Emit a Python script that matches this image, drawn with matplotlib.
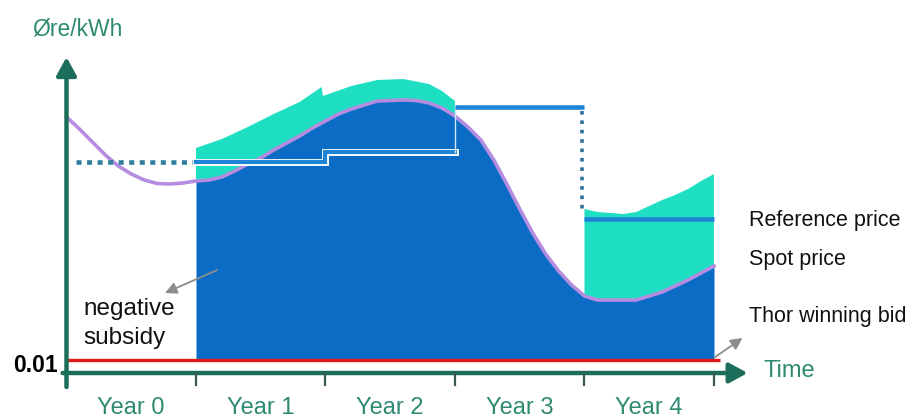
import numpy as np
import matplotlib
matplotlib.use('Agg')
import matplotlib.pyplot as plt
import matplotlib.patheffects as pe

plt.rcParams['font.family'] = ['Liberation Sans', 'DejaVu Sans']

# spot price (øre/kWh, schematic units)
spot_t = [0.0, 0.1, 0.2, 0.3, 0.4, 0.5, 0.6, 0.7, 0.8, 0.9, 1.0, 1.1, 1.2, 1.3, 1.4, 1.5,
          1.6, 1.7, 1.8, 1.9, 2.0, 2.1, 2.2, 2.3, 2.4, 2.5, 2.6, 2.7, 2.8, 2.9, 3.0, 3.1,
          3.2, 3.3, 3.4, 3.5, 3.6, 3.7, 3.8, 3.9, 4.0, 4.1, 4.2, 4.4, 4.6, 4.8, 5.0]
spot = [25.6, 24.4, 23.1, 21.8, 20.7, 19.9, 19.3, 18.95, 18.9, 19.0, 19.2, 19.3, 19.6,
        20.2, 20.9, 21.5, 22.3, 23.0, 23.7, 24.5, 25.2, 25.9, 26.4, 26.8, 27.2, 27.25,
        27.3, 27.25, 27.0, 26.5, 25.7, 24.6, 23.3, 21.3, 18.9, 16.4, 14.0, 11.9, 10.2,
        8.8, 7.7, 7.3, 7.3, 7.3, 8.1, 9.3, 10.7]

# upper edge of the teal bands
upper1_t = [1.0, 1.2, 1.4, 1.6, 1.8, 1.97, 1.98, 2.2, 2.4, 2.6, 2.8, 2.9, 3.0]
upper1 = [22.5, 23.4, 24.6, 25.9, 27.1, 28.6, 27.7, 28.7, 29.3, 29.4, 28.9, 28.2, 27.2]
upper2_t = [4.0, 4.1, 4.2, 4.3, 4.4, 4.5, 4.6, 4.7, 4.8, 4.9, 5.0]
upper2 = [16.4, 16.1, 16.0, 15.9, 16.1, 16.7, 17.3, 17.8, 18.4, 19.2, 19.9]

# reference price per year
years = ['Year 0', 'Year 1', 'Year 2', 'Year 3', 'Year 4']
ref_price = [21.1, 21.1, 22.1, 26.6, 15.4]
bid = 1.3

dark_blue = '#0b6cc6'
teal = '#1fdfc2'
purple = '#b48ce0'
ref_blue = '#1e84d6'
axis_green = '#1c6e5a'
label_green = '#2f8a72'

fig = plt.figure(figsize=(9.09, 4.18), dpi=100)
ax = fig.add_axes([0, 0, 1, 1])
ax.set_xlim(-0.5135, 6.506)
ax.set_ylim(-4.5, 37.3)
ax.axis('off')

st = np.array(spot_t)
sv = np.array(spot)

# dark blue area under the spot price, from year 1
m = st >= 1.0
ax.fill_between(st[m], bid, sv[m], color=dark_blue, lw=0, zorder=1)

# teal bands between spot price and upper edge
m1 = (st >= 1.0) & (st <= 3.0)
ax.fill(np.concatenate([upper1_t, st[m1][::-1]]),
        np.concatenate([upper1, sv[m1][::-1]]), color=teal, lw=0, zorder=2)
m2 = (st >= 4.0)
ax.fill(np.concatenate([upper2_t, st[m2][::-1]]),
        np.concatenate([upper2, sv[m2][::-1]]), color=teal, lw=0, zorder=2)

# spot price line
ax.plot(spot_t, spot, color=purple, lw=2.6, zorder=3, solid_joinstyle='round')

# reference price
ax.plot([0.07, 1.0], [ref_price[0]] * 2, color='#2f7f9c', lw=3.3,
        dashes=(1.1, 1.2), solid_capstyle='butt', dash_capstyle='butt', zorder=4)
outline = [pe.Stroke(linewidth=5.0, foreground='white'), pe.Normal()]
ax.plot([1.0, 2.0, 2.0, 3.0], [ref_price[1], ref_price[1], ref_price[2], ref_price[2]],
        color=ref_blue, lw=3.0, zorder=4, path_effects=outline, solid_joinstyle='miter')
ax.plot([3.0, 3.0], [ref_price[2], ref_price[3]], color='#cfe8f8', lw=1.0, zorder=4)
ax.plot([3.0, 4.0], [ref_price[3]] * 2, color=ref_blue, lw=3.3, zorder=4,
        solid_capstyle='butt')
ax.plot([3.98, 3.98], [ref_price[3] - 0.4, ref_price[4] + 0.8], color='#2f6f9a', lw=2.6,
        dashes=(1.0, 1.6), zorder=4)
ax.plot([4.0, 5.0], [ref_price[4]] * 2, color=ref_blue, lw=3.3, zorder=4,
        solid_capstyle='butt')

# winning bid
ax.plot([0.0, 5.05], [bid, bid], color='#e01a1a', lw=2.4, zorder=5, solid_capstyle='butt')

# axes with arrows
head = '-|>,head_length=0.55,head_width=0.3'
ax.annotate('', xy=(5.26, 0), xytext=(-0.03, 0),
            arrowprops=dict(arrowstyle=head, lw=3.2, color=axis_green,
                            mutation_scale=20, shrinkA=0, shrinkB=0), zorder=6)
ax.annotate('', xy=(0.0, 31.6), xytext=(0.0, -1.4),
            arrowprops=dict(arrowstyle=head, lw=3.2, color=axis_green,
                            mutation_scale=20, shrinkA=0, shrinkB=0), zorder=6)
for i in range(1, 6):
    ax.plot([i, i], [0, -1.2], color='#3b5a50', lw=1.6, zorder=6)
for i, lab in enumerate(years):
    ax.text(i + 0.5, -3.5, lab, ha='center', va='center', fontsize=17, color=label_green)

ax.text(-0.265, 33.7, 'Øre/kWh', ha='left', va='baseline', fontsize=16.5, color=label_green)
ax.text(5.38, 0.2, 'Time', ha='left', va='center', fontsize=17, color=label_green)
ax.text(-0.066, 0.8, '0.01', ha='right', va='center', fontsize=16.5, fontweight='bold',
        color='black')

ax.text(0.13, 5.8, 'negative', ha='left', va='baseline', fontsize=17.5, color='#111111')
ax.text(0.13, 2.9, 'subsidy', ha='left', va='baseline', fontsize=17.5, color='#111111')
ax.annotate('', xy=(0.76, 8.0), xytext=(1.164, 10.3),
            arrowprops=dict(arrowstyle='-|>,head_length=0.5,head_width=0.25', lw=1.3,
                            color='#8c8c8c', mutation_scale=14, shrinkA=0, shrinkB=0),
            zorder=7)

ax.text(5.27, 14.7, 'Reference price', ha='left', va='baseline', fontsize=15.5,
        color='#111111')
ax.text(5.27, 10.8, 'Spot price', ha='left', va='baseline', fontsize=15.5, color='#111111')
ax.text(5.27, 5.1, 'Thor winning bid', ha='left', va='baseline', fontsize=15.5,
        color='#111111')
ax.annotate('', xy=(5.22, 3.5), xytext=(5.01, 1.6),
            arrowprops=dict(arrowstyle='-|>,head_length=0.5,head_width=0.25', lw=1.3,
                            color='#8c8c8c', mutation_scale=14, shrinkA=0, shrinkB=0),
            zorder=7)

fig.savefig('out.png', dpi=100)
